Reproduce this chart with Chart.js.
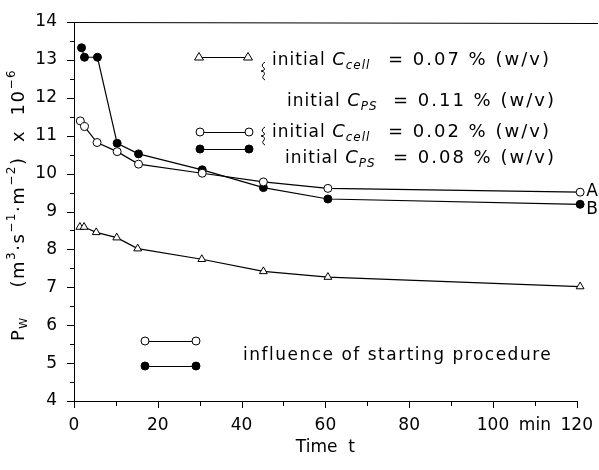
<!DOCTYPE html>
<html>
<head>
<meta charset="utf-8">
<script src="https://cdn.jsdelivr.net/npm/chart.js@4.4.0/dist/chart.umd.min.js"></script>
<style>
  html, body { margin: 0; padding: 0; background: #fff; }
  #wrap { width: 599px; height: 470px; }
</style>
</head>
<body>
<div id="wrap"><canvas id="chart" width="599" height="470"></canvas></div>
<script>
// Values (time in min, Pw in 1e-6 m3 s-1 m-2)
const timeTri = [1.4, 2.4, 5.3, 10.2, 15.2, 30.5, 45.2, 60.6, 120.8];
const pwTri = [8.59, 8.59, 8.45, 8.31, 8.02, 7.74, 7.42, 7.27, 7.02];

const timeA = [1.5, 2.5, 5.5, 10.3, 15.4, 30.6, 45.2, 60.6, 120.8];
const pwA = [11.39, 11.24, 10.82, 10.58, 10.25, 10.01, 9.78, 9.61, 9.51];

const timeB = [1.8, 2.5, 5.6, 10.3, 15.4, 30.6, 45.2, 60.6, 120.8];
const pwB = [13.32, 13.07, 13.07, 10.80, 10.52, 10.10, 9.63, 9.33, 9.19];

const xTickLabels = ['0', '', '20', '', '40', '', '60', '', '80', '', '100', 'min', '120'];
const yTickLabels = ['4', '5', '6', '7', '8', '9', '10', '11', '12', '13', '14'];

const FONT = 'DejaVu Sans';

function toPoints(xs, ys) {
    return xs.map((x, i) => ({ x: x, y: ys[i] }));
}

function drawMarker(ctx, type, x, y) {
    ctx.save();
    ctx.lineWidth = 1;
    ctx.strokeStyle = '#000';
    ctx.beginPath();
    if (type === 'tri') {
        ctx.moveTo(x, y - 4.5);
        ctx.lineTo(x + 4.5, y + 3);
        ctx.lineTo(x - 4.5, y + 3);
        ctx.closePath();
        ctx.fillStyle = '#fff';
    } else {
        ctx.arc(x, y, 4, 0, Math.PI * 2);
        ctx.fillStyle = type === 'filled' ? '#000' : '#fff';
    }
    ctx.fill();
    ctx.stroke();
    ctx.restore();
}

// parts: [text, size, dy, italic]
function drawRich(ctx, parts, x, y) {
    let cx = x;
    parts.forEach(p => {
        ctx.font = (p[3] ? 'italic ' : '') + p[1] + 'px "' + FONT + '"';
        ctx.fillText(p[0], cx, y + p[2]);
        cx += ctx.measureText(p[0]).width;
    });
    return cx;
}

function richWidth(ctx, parts) {
    let w = 0;
    parts.forEach(p => {
        ctx.font = (p[3] ? 'italic ' : '') + p[1] + 'px "' + FONT + '"';
        w += ctx.measureText(p[0]).width;
    });
    return w;
}

function drawBrace(ctx, x, y) {
    ctx.save();
    ctx.lineWidth = 1;
    ctx.strokeStyle = '#000';
    ctx.beginPath();
    ctx.moveTo(x + 2, y);
    ctx.quadraticCurveTo(x - 3, y + 3, x + 1, y + 6);
    ctx.quadraticCurveTo(x + 3, y + 8, x - 2, y + 9);
    ctx.quadraticCurveTo(x + 3, y + 10, x + 1, y + 13);
    ctx.quadraticCurveTo(x - 2, y + 16, x + 2, y + 18);
    ctx.stroke();
    ctx.restore();
}

const decor = {
    id: 'decor',
    afterDraw(chart) {
        const ctx = chart.ctx;
        const area = chart.chartArea;
        const xs = chart.scales.x;
        const ys = chart.scales.y;
        ctx.save();
        ctx.strokeStyle = '#000';
        ctx.fillStyle = '#000';
        ctx.lineWidth = 1;

        // top frame line
        ctx.beginPath();
        ctx.moveTo(area.left, area.top + 0.5);
        ctx.lineTo(598, area.top + 1.5);
        ctx.stroke();

        // tick marks
        ctx.beginPath();
        for (let v = 0; v <= 120; v += 10) {
            const px = Math.round(xs.getPixelForValue(v)) + 0.5;
            const len = v % 20 === 0 ? 7 : 5;
            ctx.moveTo(px, area.bottom);
            ctx.lineTo(px, area.bottom + len);
        }
        for (let v = 4; v <= 14; v += 0.5) {
            const py = Math.round(ys.getPixelForValue(v)) + 0.5;
            const len = Number.isInteger(v) ? 7 : 4;
            ctx.moveTo(area.left, py);
            ctx.lineTo(area.left - len, py);
        }
        ctx.stroke();

        // y axis title
        ctx.save();
        ctx.translate(19, 205);
        ctx.rotate(-Math.PI / 2);
        ctx.textBaseline = 'middle';
        ctx.letterSpacing = '1.5px';
        const title = [
            ['P', 18, 0], ['W', 11, 5], ['    (m', 18, 0], ['3', 12, -7],
            ['\u00b7s', 18, 0], ['\u22121', 12, -7], ['\u00b7m', 18, 0], ['\u22122', 12, -7],
            [')  x  10', 18, 0], ['\u22126', 12, -7]
        ];
        drawRich(ctx, title, -richWidth(ctx, title) / 2, 0);
        ctx.restore();

        // legend samples
        ctx.beginPath();
        ctx.moveTo(199, 57.5); ctx.lineTo(248, 57.5);
        ctx.moveTo(200, 132.5); ctx.lineTo(249, 132.5);
        ctx.moveTo(200, 149.5); ctx.lineTo(249, 149.5);
        ctx.moveTo(145, 341.5); ctx.lineTo(196, 341.5);
        ctx.moveTo(145, 366.5); ctx.lineTo(196, 366.5);
        ctx.stroke();
        drawMarker(ctx, 'tri', 199, 57);
        drawMarker(ctx, 'tri', 248, 57);
        drawMarker(ctx, 'open', 200, 132);
        drawMarker(ctx, 'open', 249, 132);
        drawMarker(ctx, 'filled', 200, 149);
        drawMarker(ctx, 'filled', 249, 149);
        drawMarker(ctx, 'open', 145, 341);
        drawMarker(ctx, 'open', 196, 341);
        drawMarker(ctx, 'filled', 145, 366);
        drawMarker(ctx, 'filled', 196, 366);

        drawBrace(ctx, 263, 62);
        drawBrace(ctx, 263, 127);

        ctx.textBaseline = 'alphabetic';
        const rows = [
            [272, 388, 65, 'cell', '= 0.07 % (w/v)'],
            [287, 393, 106, 'PS', '= 0.11 % (w/v)'],
            [272, 388, 137, 'cell', '= 0.02 % (w/v)'],
            [285, 393, 163, 'PS', '= 0.08 % (w/v)']
        ];
        rows.forEach(r => {
            ctx.letterSpacing = '1px';
            drawRich(ctx, [['initial ', 17, 0], ['C', 18, 0, true], [r[3], 12, 4, true]], r[0], r[2]);
            ctx.letterSpacing = '2px';
            ctx.font = '18px "' + FONT + '"';
            ctx.fillText(r[4], r[1], r[2]);
        });

        ctx.letterSpacing = '1.5px';
        ctx.font = '17px "' + FONT + '"';
        ctx.fillText('influence of starting procedure', 243, 360);
        ctx.letterSpacing = '0px';

        // curve labels A and B next to their last points
        const metaA = chart.getDatasetMeta(1).data;
        const metaB = chart.getDatasetMeta(2).data;
        const lastA = metaA[metaA.length - 1];
        const lastB = metaB[metaB.length - 1];
        ctx.textBaseline = 'middle';
        ctx.fillText('A', lastA.x + 6, lastA.y - 1);
        ctx.fillText('B', lastB.x + 6, lastB.y + 5);

        ctx.restore();
    }
};

const lineStyle = {
    borderColor: '#000',
    borderWidth: 1.2,
    pointBorderColor: '#000',
    pointBorderWidth: 1,
    tension: 0,
    fill: false,
    clip: false
};

new Chart(document.getElementById('chart'), {
    type: 'line',
    data: {
        datasets: [
            Object.assign({
                label: 'Ccell 0.07, CPS 0.11',
                data: toPoints(timeTri, pwTri),
                pointStyle: 'triangle',
                pointRadius: 4.5,
                pointBackgroundColor: '#fff'
            }, lineStyle),
            Object.assign({
                label: 'A',
                data: toPoints(timeA, pwA),
                pointStyle: 'circle',
                pointRadius: 4,
                pointBackgroundColor: '#fff'
            }, lineStyle),
            Object.assign({
                label: 'B',
                data: toPoints(timeB, pwB),
                pointStyle: 'circle',
                pointRadius: 4,
                pointBackgroundColor: '#000'
            }, lineStyle)
        ]
    },
    options: {
        responsive: false,
        animation: false,
        events: [],
        layout: { padding: { top: 22, right: 21, left: 0, bottom: 0 } },
        plugins: {
            legend: { display: false },
            tooltip: { enabled: false }
        },
        scales: {
            x: {
                type: 'linear',
                min: 0,
                max: 120,
                afterFit: s => { s.height = 69; },
                grid: { display: false },
                border: { display: true, color: '#000', width: 1 },
                ticks: {
                    stepSize: 10,
                    autoSkip: false,
                    maxRotation: 0,
                    padding: 6,
                    color: '#000',
                    font: { family: FONT, size: 17 },
                    callback: (v, i) => xTickLabels[i]
                },
                title: { display: true, text: 'Time  t', color: '#000', font: { family: FONT, size: 17 }, padding: { top: 0, bottom: 12 } }
            },
            y: {
                type: 'linear',
                min: 4,
                max: 14,
                afterFit: s => { s.width = 74; },
                grid: { display: false },
                border: { display: true, color: '#000', width: 1 },
                ticks: {
                    stepSize: 1,
                    padding: 9,
                    color: '#000',
                    font: { family: FONT, size: 17 },
                    callback: (v, i) => yTickLabels[i]
                }
            }
        }
    },
    plugins: [decor]
});
</script>
</body>
</html>
